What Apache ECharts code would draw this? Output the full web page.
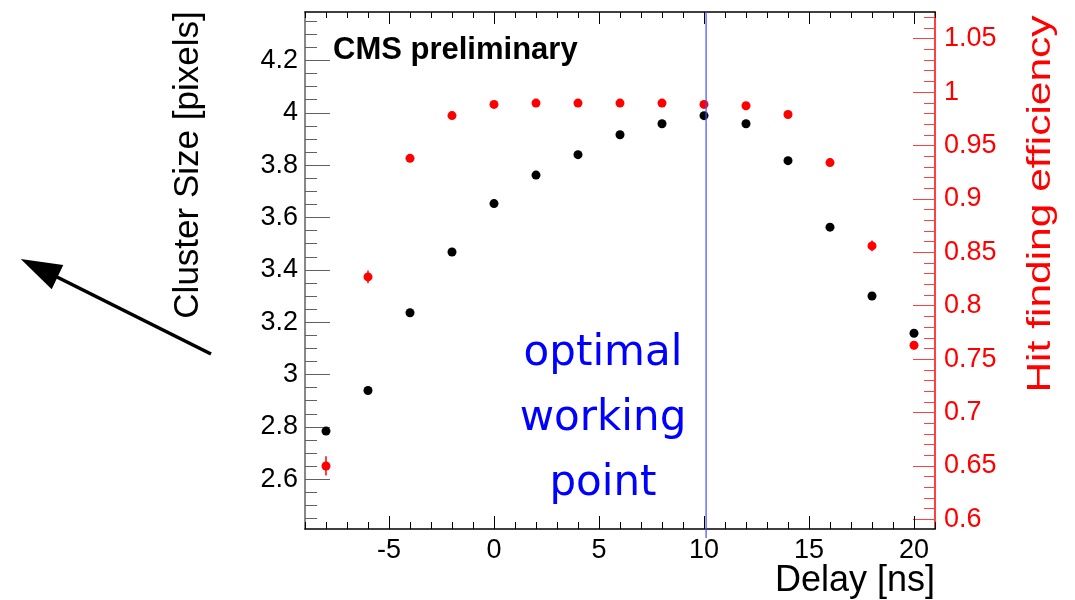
<!DOCTYPE html>
<html>
<head>
<meta charset="utf-8">
<script src="https://cdn.jsdelivr.net/npm/echarts@6/dist/echarts.min.js"></script>
<style>
html,body{margin:0;padding:0;background:#fff;}
#chart{width:1075px;height:600px;}
</style>
</head>
<body>
<div id="chart"></div>
<script>
// ---- data ----
const delays = [-8, -6, -4, -2, 0, 2, 4, 6, 8, 10, 12, 14, 16, 18, 20];
const clusterSize = [2.784, 2.939, 3.236, 3.468, 3.653, 3.762, 3.840, 3.916, 3.958, 3.989, 3.958, 3.817, 3.563, 3.300, 3.158];
const efficiency = [0.650, 0.827, 0.938, 0.978, 0.9885, 0.9897, 0.9897, 0.9897, 0.9897, 0.9885, 0.9872, 0.979, 0.934, 0.856, 0.763];
const efficiencyErr = [0.009, 0.006, 0.003, 0.002, 0.002, 0.002, 0.002, 0.002, 0.002, 0.002, 0.002, 0.002, 0.003, 0.005, 0.004];
const workingPoint = [10.1];

// ---- axis ticks ----
const xTicks = [-5, 0, 5, 10, 15, 20];
const leftTicks = [2.6, 2.8, 3, 3.2, 3.4, 3.6, 3.8, 4, 4.2];
const rightTicks = [0.6, 0.65, 0.7, 0.75, 0.8, 0.85, 0.9, 0.95, 1, 1.05];

function steps(a, b, s) {
  const out = [];
  for (let v = a; v <= b + 1e-9; v += s) out.push(Math.round(v * 1000) / 1000);
  return out;
}
const xMinor = steps(-9, 21, 1);
const leftMinor = steps(2.45, 4.35, 0.05);
const rightMinor = steps(0.6, 1.07, 0.01);

const X_MIN = -9, X_MAX = 21;
const L_MIN = 2.41, L_MAX = 4.385;
const R_MIN = 0.591, R_MAX = 1.075;
const FONT = '"Liberation Sans", Arial, sans-serif';

const chart = echarts.init(document.getElementById('chart'), null, {renderer: 'canvas'});

function xAx(pos, ticks, len, showLine, labels) {
  return {
    type: 'value', position: pos, min: X_MIN, max: X_MAX,
    axisLine: {show: showLine, onZero: false, lineStyle: {color: '#000', width: 1.5}},
    axisTick: {show: true, inside: true, length: len, customValues: ticks, lineStyle: {color: '#000', width: 1}},
    axisLabel: labels ? {show: true, customValues: labels, fontSize: 27, color: '#000', fontFamily: FONT, margin: 8} : {show: false},
    splitLine: {show: false}
  };
}
function yAx(pos, min, max, ticks, len, showLine, color, tickColor, labelColor, labels, margin) {
  return {
    type: 'value', position: pos, min: min, max: max,
    axisLine: {show: showLine, onZero: false, lineStyle: {color: color, width: 1.5}},
    axisTick: {show: true, inside: true, length: len, customValues: ticks, lineStyle: {color: tickColor, width: 1}},
    axisLabel: labels ? {show: true, customValues: labels, fontSize: 27, color: labelColor, fontFamily: FONT, margin: margin} : {show: false},
    splitLine: {show: false}
  };
}

const option = {
  animation: false,
  backgroundColor: '#fff',
  grid: {left: 305, right: 140, top: 12, bottom: 71},
  xAxis: [
    xAx('bottom', xTicks, 13, true, xTicks),
    xAx('bottom', xMinor, 7, false, null),
    xAx('top', xTicks, 12, true, null),
    xAx('top', xMinor, 6, false, null)
  ],
  yAxis: [
    yAx('left', L_MIN, L_MAX, leftTicks, 25, true, '#606060', '#606060', '#000', leftTicks, 7),
    yAx('left', L_MIN, L_MAX, leftMinor, 12, false, '#606060', '#606060', '#000', null, 0),
    yAx('right', R_MIN, R_MAX, rightTicks, 22, true, '#ff0000', '#ff4040', '#ff0000', rightTicks, 9),
    yAx('right', R_MIN, R_MAX, rightMinor, 11, false, '#ff0000', '#ff4040', '#ff0000', null, 0)
  ],
  series: [
    {
      type: 'custom', xAxisIndex: 0, yAxisIndex: 0, silent: true, clip: false, z: 4,
      data: workingPoint.map(v => [v, L_MIN]),
      renderItem: function (params, api) {
        const p = api.coord([api.value(0), api.value(1)]);
        const cs = params.coordSys;
        return {type: 'line', shape: {x1: p[0], y1: cs.y, x2: p[0], y2: cs.y + cs.height + 9},
                style: {stroke: '#4b4bff', lineWidth: 1.2}};
      }
    },
    {
      type: 'custom', xAxisIndex: 0, yAxisIndex: 2, silent: true, z: 2,
      data: delays.map((d, i) => [d, efficiency[i] - efficiencyErr[i], efficiency[i] + efficiencyErr[i]]),
      renderItem: function (params, api) {
        const a = api.coord([api.value(0), api.value(1)]);
        const b = api.coord([api.value(0), api.value(2)]);
        return {type: 'line', shape: {x1: a[0], y1: a[1], x2: b[0], y2: b[1]},
                style: {stroke: '#ff0000', lineWidth: 1.5}};
      }
    },
    {
      name: 'Cluster Size', type: 'scatter', xAxisIndex: 0, yAxisIndex: 0, z: 3,
      symbol: 'circle', symbolSize: 9, itemStyle: {color: '#000', opacity: 1},
      data: delays.map((d, i) => [d, clusterSize[i]])
    },
    {
      name: 'Hit finding efficiency', type: 'scatter', xAxisIndex: 0, yAxisIndex: 2, z: 3,
      symbol: 'circle', symbolSize: 9, itemStyle: {color: '#ff0000', opacity: 1},
      data: delays.map((d, i) => [d, efficiency[i]])
    }
  ],
  graphic: [
    {type: 'text', x: 333, y: 50, z: 10,
     style: {text: 'CMS preliminary', font: 'bold 31px ' + FONT, fill: '#000', textAlign: 'left', textVerticalAlign: 'middle'}},
    {type: 'text', x: 603, y: 419, z: 10,
     style: {text: 'optimal\nworking\npoint', font: '42px "DejaVu Sans", sans-serif', lineHeight: 65, fill: '#0000ff', textAlign: 'center', textVerticalAlign: 'middle'}},
    {type: 'text', x: 935, y: 581, z: 10,
     style: {text: 'Delay [ns]', font: '36px ' + FONT, fill: '#000', textAlign: 'right', textVerticalAlign: 'middle'}},
    {type: 'text', x: 188, y: 165, rotation: Math.PI / 2, z: 10,
     style: {text: 'Cluster Size [pixels]', font: '35px ' + FONT, fill: '#000', textAlign: 'center', textVerticalAlign: 'middle'}},
    {type: 'text', x: 1041, y: 204, rotation: Math.PI / 2, scaleX: 1.25, z: 10,
     style: {text: 'Hit finding efficiency', font: '34px ' + FONT, fill: '#ff0000', textAlign: 'center', textVerticalAlign: 'middle'}},
    {type: 'line', z: 10, shape: {x1: 211, y1: 354, x2: 55, y2: 276}, style: {stroke: '#000', lineWidth: 3.5}},
    {type: 'polygon', z: 10, shape: {points: [[20.7, 259], [63.3, 265], [51.7, 289.3]]}, style: {fill: '#000'}}
  ]
};
chart.setOption(option);
</script>
</body>
</html>
